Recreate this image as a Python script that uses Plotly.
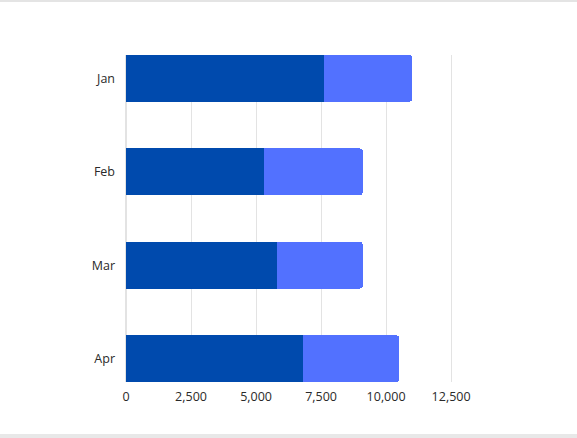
import plotly.graph_objects as go

months = ["Jan", "Feb", "Mar", "Apr"]
series_a = [7600, 5300, 5800, 6800]
series_b = [3400, 3800, 3300, 3700]
x_ticks = [0, 2500, 5000, 7500, 10000, 12500]
x_tick_labels = ["0", "2,500", "5,000", "7,500", "10,000", "12,500"]

W, H = 577, 438
M_L, M_R, M_T, M_B = 126, 122, 55, 56

fig = go.Figure()
fig.add_trace(go.Bar(y=months, x=series_a, orientation="h",
                     marker=dict(color="#004aad", line_width=0), name="A"))
fig.add_trace(go.Bar(y=months, x=series_b, orientation="h",
                     marker=dict(color="#5271ff", line_width=0), name="B"))

# thin frame lines at the very top and bottom of the page
pw = W - M_L - M_R
ph = H - M_T - M_B
top_y = 1 + (M_T - 1) / ph
bot_y = -(M_B - 2) / ph
fig.add_shape(type="line", xref="paper", yref="paper",
              x0=-M_L / pw, x1=1 + M_R / pw,
              y0=top_y, y1=top_y, line=dict(color="#e4e4e4", width=2))
fig.add_shape(type="line", xref="paper", yref="paper",
              x0=-M_L / pw, x1=1 + M_R / pw,
              y0=bot_y, y1=bot_y, line=dict(color="#e8e8e8", width=4))

fig.update_layout(
    width=W, height=H,
    margin=dict(l=M_L, r=M_R, t=M_T, b=M_B),
    barmode="stack",
    bargap=0.5,
    barcornerradius=3,
    showlegend=False,
    plot_bgcolor="white",
    paper_bgcolor="white",
    font=dict(family="Open Sans", size=12, color="#2a2a2a"),
)
fig.update_xaxes(range=[0, 12650], tickvals=x_ticks, ticktext=x_tick_labels,
                 showgrid=True, gridcolor="#e3e3e3", gridwidth=1,
                 zeroline=True, zerolinecolor="#e3e3e3", showline=False,
                 ticks="", ticklabelstandoff=5,
                 tickfont=dict(size=12.5, color="#2a2a2a"))
fig.update_yaxes(range=[3.25, -0.25], showgrid=False, zeroline=False,
                 showline=False, ticks="", ticklabelstandoff=10,
                 tickfont=dict(size=12.5, color="#2a2a2a"))

fig.write_html("out.html", config={"displayModeBar": False},
               post_script="document.body.style.margin='0';")
